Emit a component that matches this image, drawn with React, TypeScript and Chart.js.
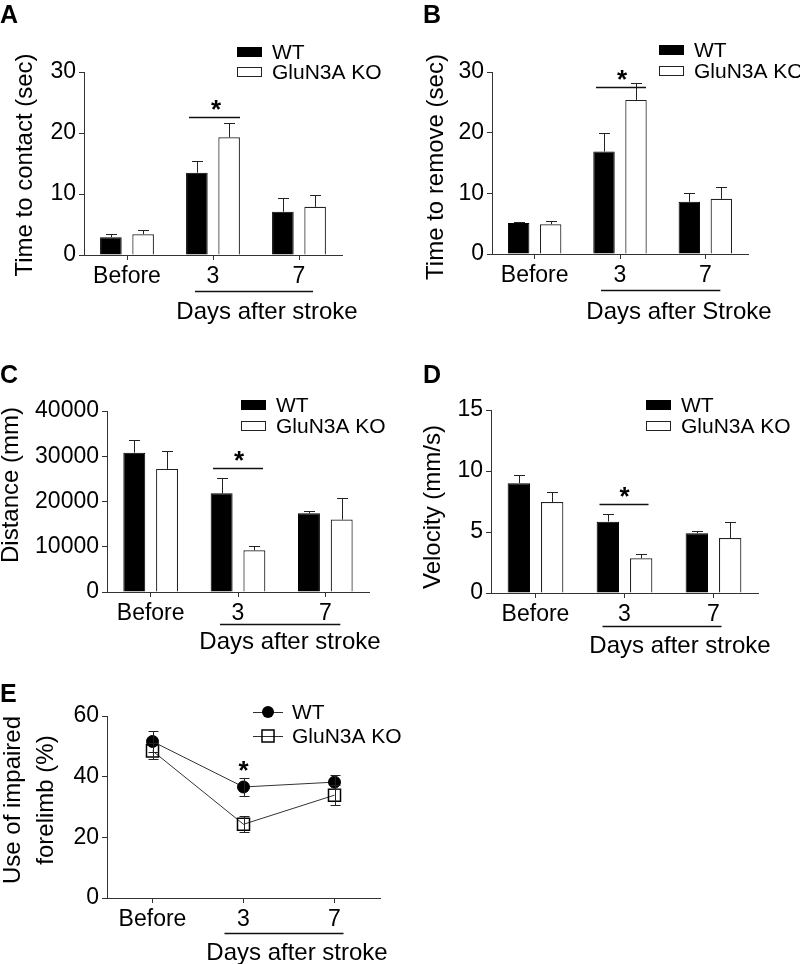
import React, { useEffect, useRef } from "react";
import { Chart, registerables } from "chart.js";
Chart.register(...registerables);

const FONT = "'Liberation Sans', Arial, Helvetica, sans-serif";
const AXIS = "#333";

const categories = ["Before", "3", "7"];
const seriesNames = ["WT", "GluN3A KO"];

// A: Time to contact (sec)
const contactWT = [2.9, 13.5, 7.1];
const contactWTErr = [0.5, 1.9, 2.2];
const contactKO = [3.4, 19.3, 7.9];
const contactKOErr = [0.7, 2.4, 2.0];
// B: Time to remove (sec)
const removeWT = [5.1, 16.9, 8.6];
const removeWTErr = [0.25, 3.1, 1.5];
const removeKO = [4.9, 25.4, 9.1];
const removeKOErr = [0.5, 2.8, 2.0];
// C: Distance (mm)
const distanceWT = [30800, 21800, 17400];
const distanceWTErr = [2700, 3400, 600];
const distanceKO = [27200, 9200, 16000];
const distanceKOErr = [4000, 1000, 4700];
// D: Velocity (mm/s)
const velocityWT = [9.0, 5.85, 4.9];
const velocityWTErr = [0.65, 0.6, 0.2];
const velocityKO = [7.45, 2.85, 4.5];
const velocityKOErr = [0.85, 0.35, 1.3];
// E: Use of impaired forelimb (%)
const forelimbWT = [51.6, 36.6, 38.2];
const forelimbWTErr = [3.5, 3.0, 2.3];
const forelimbKO = [48.5, 24.3, 33.9];
const forelimbKOErr = [2.6, 2.7, 3.2];

// significance bracket heights (axis values)
const sigValues = [22.6, 27.5, 27400, 7.3, 39.6];
const yMaxes = [30, 30, 40000, 15, 60];
const ySteps = [10, 10, 10000, 5, 20];

type Panel = {
  letter: string;
  kind: "bar" | "line";
  left: number; top: number; w: number; h: number;
  area: { l: number; t: number; r: number; b: number };
  wt: number[]; wtErr: number[]; ko: number[]; koErr: number[];
  yMax: number; yStep: number;
  yTitle: string[]; yTitleX: number[]; yTitleY: number;
  letterX: number; letterY: number;
  legendX: number; legendY: number; legendGap: number;
  sig: { y: number; dx0: number; dx1: number; starDx: number; line: boolean };
  days: { text: string; y: number; dx0: number; dx1: number; textX: number; textY: number };
};

const panels: Panel[] = [
  {
    letter: "A", kind: "bar", left: 0, top: 0, w: 400, h: 330,
    area: { l: 84, t: 72, r: 342, b: 255 },
    wt: contactWT, wtErr: contactWTErr, ko: contactKO, koErr: contactKOErr,
    yMax: yMaxes[0], yStep: ySteps[0],
    yTitle: ["Time to contact (sec)"], yTitleX: [32], yTitleY: 165,
    letterX: 0, letterY: 23,
    legendX: 237, legendY: 52, legendGap: 20,
    sig: { y: sigValues[0], dx0: -24, dx1: 27, starDx: 3, line: true },
    days: { text: "Days after stroke", y: 291, dx0: -18, dx1: 14, textX: 267, textY: 319 },
  },
  {
    letter: "B", kind: "bar", left: 400, top: 0, w: 400, h: 330,
    area: { l: 92, t: 72, r: 348, b: 254 },
    wt: removeWT, wtErr: removeWTErr, ko: removeKO, koErr: removeKOErr,
    yMax: yMaxes[1], yStep: ySteps[1],
    yTitle: ["Time to remove (sec)"], yTitleX: [43], yTitleY: 167,
    letterX: 23, letterY: 23,
    legendX: 259, legendY: 50, legendGap: 21,
    sig: { y: sigValues[1], dx0: -24, dx1: 26, starDx: 2, line: true },
    days: { text: "Days after Stroke", y: 290, dx0: -19, dx1: 15, textX: 279, textY: 319 },
  },
  {
    letter: "C", kind: "bar", left: 0, top: 330, w: 400, h: 330,
    area: { l: 107, t: 81, r: 369, b: 262 },
    wt: distanceWT, wtErr: distanceWTErr, ko: distanceKO, koErr: distanceKOErr,
    yMax: yMaxes[2], yStep: ySteps[2],
    yTitle: ["Distance (mm)"], yTitleX: [18], yTitleY: 155,
    letterX: 0, letterY: 53,
    legendX: 241, legendY: 75, legendGap: 21,
    sig: { y: sigValues[2], dx0: -25, dx1: 25, starDx: 1, line: true },
    days: { text: "Days after stroke", y: 294, dx0: -18, dx1: 15, textX: 290, textY: 319 },
  },
  {
    letter: "D", kind: "bar", left: 400, top: 330, w: 400, h: 330,
    area: { l: 91, t: 80, r: 358, b: 263 },
    wt: velocityWT, wtErr: velocityWTErr, ko: velocityKO, koErr: velocityKOErr,
    yMax: yMaxes[3], yStep: ySteps[3],
    yTitle: ["Velocity (mm/s)"], yTitleX: [40], yTitleY: 177,
    letterX: 23, letterY: 53,
    legendX: 246, legendY: 75, legendGap: 21,
    sig: { y: sigValues[3], dx0: -25, dx1: 24, starDx: 0, line: true },
    days: { text: "Days after stroke", y: 296, dx0: -22, dx1: 8, textX: 280, textY: 323 },
  },
  {
    letter: "E", kind: "line", left: 0, top: 660, w: 420, h: 304,
    area: { l: 107, t: 56, r: 380, b: 238 },
    wt: forelimbWT, wtErr: forelimbWTErr, ko: forelimbKO, koErr: forelimbKOErr,
    yMax: yMaxes[4], yStep: ySteps[4],
    yTitle: ["Use of impaired", "forelimb (%)"], yTitleX: [20, 53], yTitleY: 140,
    letterX: 0, letterY: 42,
    legendX: 253, legendY: 52, legendGap: 24,
    sig: { y: sigValues[4], dx0: 0, dx1: 0, starDx: 0, line: false },
    days: { text: "Days after stroke", y: 273, dx0: -19, dx1: 9, textX: 297, textY: 300 },
  },
];

const decorPlugin = {
  id: "decor",
  afterDatasetsDraw(chart: any, _args: any, opts: any) {
    const p: Panel = opts.panel;
    if (!p) return;
    const ctx: CanvasRenderingContext2D = chart.ctx;
    const xs = chart.scales.x;
    const ys = chart.scales.y;
    const isLine = p.kind === "line";

    // error bars
    ctx.save();
    ctx.strokeStyle = "#222";
    ctx.lineWidth = 1;
    chart.data.datasets.forEach((ds: any, i: number) => {
      const meta = chart.getDatasetMeta(i);
      const errs: number[] = ds.errors || [];
      meta.data.forEach((el: any, j: number) => {
        const v = ds.data[j];
        const e = errs[j];
        if (e == null) return;
        const x = Math.round(el.x) + 0.5;
        const yTop = Math.round(ys.getPixelForValue(v + e)) + 0.5;
        const yBot = isLine ? Math.round(ys.getPixelForValue(v - e)) + 0.5 : el.y;
        const cap = isLine ? 5 : 5.5;
        ctx.beginPath();
        ctx.moveTo(x, yBot);
        ctx.lineTo(x, yTop);
        ctx.moveTo(x - cap, yTop);
        ctx.lineTo(x + cap, yTop);
        if (isLine) {
          ctx.moveTo(x - cap, yBot);
          ctx.lineTo(x + cap, yBot);
        }
        ctx.stroke();
      });
    });
    ctx.restore();

    // significance
    const x3 = xs.getPixelForValue(1);
    const x7 = xs.getPixelForValue(2);
    const sy = ys.getPixelForValue(p.sig.y);
    ctx.save();
    ctx.strokeStyle = "#111";
    ctx.lineWidth = 1.3;
    if (p.sig.line) {
      ctx.beginPath();
      ctx.moveTo(x3 + p.sig.dx0, Math.round(sy) + 0.5);
      ctx.lineTo(x3 + p.sig.dx1, Math.round(sy) + 0.5);
      ctx.stroke();
    }
    ctx.fillStyle = "#000";
    ctx.font = `bold 26px ${FONT}`;
    ctx.textAlign = "center";
    ctx.textBaseline = "alphabetic";
    ctx.fillText("*", x3 + p.sig.starDx, sy + 1);

    // days after stroke
    ctx.lineWidth = 1.3;
    ctx.beginPath();
    ctx.moveTo(x3 + p.days.dx0, p.days.y + 0.5);
    ctx.lineTo(x7 + p.days.dx1, p.days.y + 0.5);
    ctx.stroke();
    ctx.font = `24px ${FONT}`;
    ctx.fillText(p.days.text, p.days.textX, p.days.textY);

    // panel letter
    ctx.font = `bold 25px ${FONT}`;
    ctx.textAlign = "left";
    ctx.fillText(p.letter, p.letterX, p.letterY);

    // y title
    ctx.font = `24px ${FONT}`;
    ctx.textAlign = "center";
    p.yTitle.forEach((line, k) => {
      ctx.save();
      ctx.translate(p.yTitleX[k], p.yTitleY);
      ctx.rotate(-Math.PI / 2);
      ctx.fillText(line, 0, 0);
      ctx.restore();
    });

    // legend
    ctx.font = `21px ${FONT}`;
    ctx.textAlign = "left";
    ctx.textBaseline = "middle";
    chart.data.datasets.forEach((ds: any, i: number) => {
      const cy = p.legendY + i * p.legendGap;
      if (isLine) {
        ctx.strokeStyle = ds.borderColor;
        ctx.lineWidth = 1;
        ctx.beginPath();
        ctx.moveTo(p.legendX, cy + 0.5);
        ctx.lineTo(p.legendX + 30, cy + 0.5);
        ctx.stroke();
        const mx = p.legendX + 15;
        if (ds.pointStyle === "circle") {
          ctx.fillStyle = ds.pointBackgroundColor;
          ctx.beginPath();
          ctx.arc(mx, cy, ds.pointRadius, 0, Math.PI * 2);
          ctx.fill();
        } else {
          const s = ds.pointRadius * Math.SQRT1_2;
          ctx.strokeStyle = ds.pointBorderColor;
          ctx.lineWidth = ds.pointBorderWidth;
          ctx.strokeRect(mx - s, cy - s, 2 * s, 2 * s);
        }
        ctx.fillStyle = "#000";
        ctx.fillText(ds.label, p.legendX + 39, cy + 1);
      } else {
        ctx.fillStyle = ds.backgroundColor;
        ctx.fillRect(p.legendX, cy - 5, 25, 10);
        ctx.strokeStyle = ds.borderColor;
        ctx.lineWidth = 1;
        ctx.strokeRect(p.legendX + 0.5, cy - 4.5, 24, 9);
        ctx.fillStyle = "#000";
        ctx.fillText(ds.label, p.legendX + 35, cy + 1);
      }
    });
    ctx.restore();
  },
};

function buildConfig(p: Panel): any {
  const isLine = p.kind === "line";
  const datasets = isLine
    ? [
        {
          label: seriesNames[0], data: p.wt, errors: p.wtErr,
          borderColor: "#333", borderWidth: 1, tension: 0, fill: false,
          pointStyle: "circle", pointRadius: 6,
          pointBackgroundColor: "#000", pointBorderColor: "#000", pointBorderWidth: 1,
        },
        {
          label: seriesNames[1], data: p.ko, errors: p.koErr,
          borderColor: "#333", borderWidth: 1, tension: 0, fill: false,
          pointStyle: "rect", pointRadius: 8.5,
          pointBackgroundColor: "rgba(255,255,255,0)", pointBorderColor: "#000", pointBorderWidth: 1.5,
        },
      ]
    : [
        {
          label: seriesNames[0], data: p.wt, errors: p.wtErr,
          backgroundColor: "#000", borderColor: "#000", borderWidth: 1,
          categoryPercentage: 0.75, barPercentage: 0.67,
        },
        {
          label: seriesNames[1], data: p.ko, errors: p.koErr,
          backgroundColor: "#fff", borderColor: "#222", borderWidth: 1.2,
          categoryPercentage: 0.75, barPercentage: 0.67,
        },
      ];
  const tickFont = { size: 23, family: FONT };
  return {
    type: isLine ? "line" : "bar",
    data: { labels: categories, datasets },
    plugins: [decorPlugin],
    options: {
      responsive: false,
      animation: false,
      devicePixelRatio: 1,
      events: [],
      layout: { padding: { left: 0, top: p.area.t, right: p.w - p.area.r, bottom: 0 } },
      plugins: {
        legend: { display: false },
        tooltip: { enabled: false },
        decor: { panel: p },
      },
      scales: {
        x: {
          type: "category",
          offset: true,
          grid: { display: true, drawOnChartArea: false, drawTicks: true, tickLength: 5, color: AXIS, offset: false },
          border: { display: true, color: AXIS, width: 1 },
          ticks: { color: "#000", font: tickFont, padding: 3, autoSkip: false, maxRotation: 0 },
          afterFit: (s: any) => { s.height = p.h - p.area.b; },
        },
        y: {
          min: 0,
          max: p.yMax,
          grid: { display: true, drawOnChartArea: false, drawTicks: true, tickLength: 5, color: AXIS },
          border: { display: true, color: AXIS, width: 1 },
          ticks: { stepSize: p.yStep, color: "#000", font: tickFont, padding: 3, callback: (v: any) => String(v) },
          afterFit: (s: any) => { s.width = p.area.l; },
        },
      },
    },
  };
}

function PanelChart({ p }: { p: Panel }) {
  const ref = useRef<HTMLCanvasElement>(null);
  useEffect(() => {
    const chart = new Chart(ref.current as HTMLCanvasElement, buildConfig(p));
    return () => chart.destroy();
  }, [p]);
  return (
    <canvas
      ref={ref}
      width={p.w}
      height={p.h}
      style={{ position: "absolute", left: p.left, top: p.top, width: p.w, height: p.h }}
    />
  );
}

export default function App() {
  return (
    <div style={{ position: "absolute", left: 0, top: 0, width: 800, height: 964, background: "#fff", overflow: "hidden" }}>
      {panels.map((p) => (
        <PanelChart key={p.letter} p={p} />
      ))}
    </div>
  );
}
